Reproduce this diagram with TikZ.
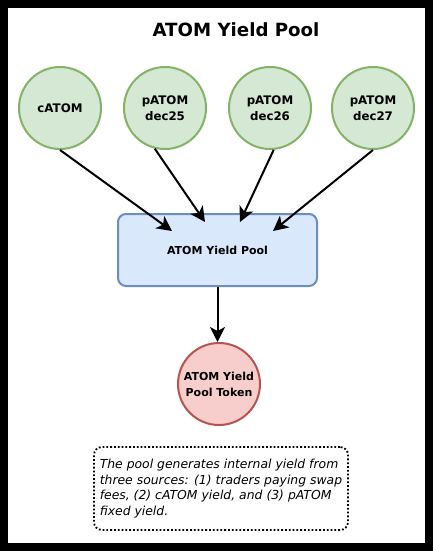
\documentclass[tikz,border=0pt]{standalone}
\usepackage{fontspec}
\setmainfont{DejaVu Sans}
\usetikzlibrary{positioning,arrows.meta}
\definecolor{SourceGreen}{HTML}{D5E8D4}
\definecolor{SourceGreenLine}{HTML}{82B366}
\definecolor{PoolBlue}{HTML}{DAE8FC}
\definecolor{PoolBlueLine}{HTML}{6C8EBF}
\definecolor{TokenRed}{HTML}{F8CECC}
\definecolor{TokenRedLine}{HTML}{B85450}

\begin{document}
\begin{tikzpicture}[x=1pt, y=-1pt,
  source/.style={circle, draw=SourceGreenLine, fill=SourceGreen, line width=2pt,
    minimum size=82pt, inner sep=0pt, align=center, font=\bfseries\fontsize{11.8}{16}\selectfont},
  pool/.style={rectangle, rounded corners=8pt, draw=PoolBlueLine, fill=PoolBlue, line width=2pt,
    minimum width=199pt, minimum height=72pt, align=center, font=\bfseries\fontsize{11}{14}\selectfont},
  token/.style={circle, draw=TokenRedLine, fill=TokenRed, line width=2pt,
    minimum size=82pt, inner sep=0pt, align=center, font=\bfseries\fontsize{11}{16}\selectfont},
  note/.style={rectangle, rounded corners=8pt, draw, dotted, line width=1.8pt,
    minimum width=254pt, minimum height=83pt, align=left, font=\itshape\fontsize{12.4}{15.5}\selectfont},
  flow/.style={-{Stealth[length=15pt, width=15pt, inset=4pt]}, line width=2pt}]
  % frame
  \fill[black] (0,0) rectangle (433,551);
  \fill[white] (8,8) rectangle (425,543);
  \node[font=\bfseries\fontsize{18.2}{20}\selectfont] (title) at (236,30) {ATOM Yield Pool};

  % sources
  \node[source] (catom) at (60,108) {cATOM};
  \node[source] (dec25) at (165,108) {pATOM\\dec25};
  \node[source] (dec26) at (270,108) {pATOM\\dec26};
  \node[source] (dec27) at (373,108) {pATOM\\dec27};

  % pool and token
  \node[pool] (ypool) at (217.5,250) {ATOM Yield Pool};
  \node[token] (ytoken) at (219,384) {ATOM Yield\\Pool Token};

  \coordinate (in1) at (172,231);
  \coordinate (in2) at (205,222);
  \coordinate (in3) at (240,222);
  \coordinate (in4) at (273,231);
  \draw[flow] (catom.south) -- (in1);
  \draw[flow] (dec25.256) -- (in2);
  \draw[flow] (dec26.275) -- (in3);
  \draw[flow] (dec27.south) -- (in4);
  \draw[flow] (ypool.south) -- (ypool.south |- ytoken.north);

  % note
  \node[note] (info) at (221,488.5) {The pool generates internal yield from\\three sources: (1) traders paying swap\\fees, (2) cATOM yield, and (3) pATOM\\fixed yield.};
\end{tikzpicture}
\end{document}
